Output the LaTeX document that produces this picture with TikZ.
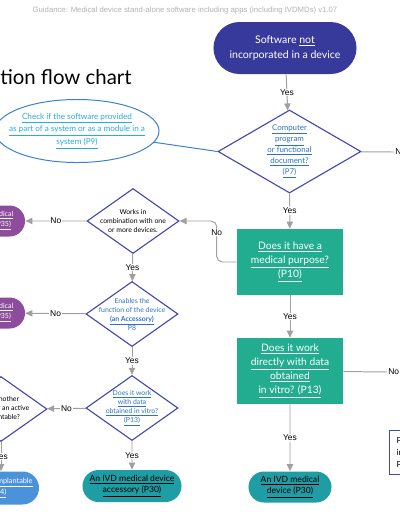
\documentclass[tikz,border=0pt]{standalone}
\usepackage{fontspec}
\setmainfont{Lato}
\newfontfamily\arialfont{Liberation Sans}
\usetikzlibrary{shapes.geometric,shapes.misc,arrows.meta}
\definecolor{navy}{HTML}{373A9A}
\definecolor{edge}{HTML}{4548AD}
\definecolor{link}{HTML}{2E72C2}
\definecolor{sky}{HTML}{2AAAE2}
\definecolor{skyedge}{HTML}{3A80D0}
\definecolor{sea}{HTML}{22AD90}
\definecolor{plum}{HTML}{8E4D9C}
\definecolor{aimdblue}{HTML}{4A93DA}
\definecolor{ivdteal}{HTML}{1F9DA5}
\definecolor{wire}{HTML}{A0A0A0}
\tikzstyle{term} = [rounded rectangle, inner sep=0pt, align=center]
\tikzstyle{dec} = [diamond, draw=edge, line width=0.8pt, inner sep=0pt]
\tikzstyle{ask} = [rectangle, fill=sea, text=white, inner sep=0pt, align=center, minimum width=2.65cm, minimum height=1.65cm, font=\fontsize{7.3}{10}\selectfont]
\tikzstyle{small} = [align=center, font=\fontsize{4.9}{6.4}\selectfont]
\tikzstyle{wire} = [draw=wire, line width=0.7pt]
\tikzstyle{arr} = [wire, -{Triangle[width=4.5pt,length=5pt]}]
\tikzstyle{yn} = [fill=white, inner sep=0.6pt, font=\arialfont\fontsize{6}{7}\selectfont]

\begin{document}
\begin{tikzpicture}[x=0.025cm, y=-0.025cm]
    \useasboundingbox (0,0) rectangle (400,516);
    \clip (0,0) rectangle (400,516);
    \node[text=black!30, font=\arialfont\fontsize{5.5}{6}\selectfont](head) at (185,10){Guidance: Medical device stand-alone software including apps (including IVDMDs) v1.07};
    \node[anchor=west, inner sep=0pt, font=\fontsize{14.5}{16}\selectfont](title) at (0,77){tion flow chart};
    \node[term, fill=navy, text=white, minimum width=3.575cm, minimum height=1.3cm, font=\fontsize{7.5}{10.5}\selectfont](sw) at (285,48){Software \underline{not}\\incorporated in a device};
    \node[dec, minimum width=3.575cm, minimum height=2.075cm](p7) at (289.5,151.5){};
    \node[small, text=link, font=\fontsize{5.6}{7.8}\selectfont] at (p7){\underline{Computer}\\\underline{program}\\\underline{or functional}\\\underline{document?}\\\underline{(P7)}};
    \node[ellipse, draw=skyedge, line width=0.7pt, minimum width=4.1cm, minimum height=1.575cm](p9) at (77,131){};
    \node[small, text=sky, font=\fontsize{5.8}{9}\selectfont] at (p9){\underline{Check if the software provided}\\\underline{as part of a system or as a module in a}\\\underline{system (P9)}};
    \node[ask](p10) at (290,262){\underline{Does it have a}\\\underline{medical purpose?}\\\underline{(P10)}};
    \node[ask](p13) at (290,371){\underline{Does it work}\\\underline{directly with data}\\\underline{obtained}\\\underline{in vitro? (P13)}};
    \node[term, fill=ivdteal, minimum width=2.075cm, minimum height=0.775cm, font=\fontsize{6.1}{7.8}\selectfont](ivd) at (290,487){\underline{An IVD medical}\\\underline{device (P30)}};
    \node[draw=edge, fill=white, line width=0.8pt, anchor=north west, inner xsep=5pt, inner ysep=3pt, text width=1.4cm, minimum height=1.1cm, align=left, font=\fontsize{6}{8.5}\selectfont](refbox) at (389,430){Please see\\information\\P14};
    % left column
    \node[dec, minimum width=2.3cm, minimum height=1.625cm](combi) at (133,221){};
    \node[small] at (combi){Works in\\combination with one\\or more devices.};
    \node[dec, minimum width=2.3cm, minimum height=1.625cm](p8) at (132,314){};
    \node[small, text=link] at (p8){Enables the\\function of the device\\\underline{\textbf{(an Accessory)}}\\P8};
    \node[dec, minimum width=2.3cm, minimum height=1.625cm](p13b) at (132,408){};
    \node[small, text=link] at (p13b){\underline{Does it work}\\\underline{with data}\\\underline{obtained in vitro?}\\\underline{(P13)}};
    \node[dec, minimum width=2.3cm, minimum height=1.625cm](aimd) at (1,409){};
    \node[small] at (aimd){Is it another\\device or an active\\implantable?};
    \node[term, fill=plum, text=white, minimum width=1.65cm, minimum height=0.775cm, font=\fontsize{5}{7}\selectfont](p35a) at (-8,221){\underline{Not a medical}\\\underline{device (P35)}};
    \node[term, fill=plum, text=white, minimum width=1.65cm, minimum height=0.775cm, font=\fontsize{5}{7}\selectfont](p35b) at (-8,313){\underline{Not a medical}\\\underline{device (P35)}};
    \node[term, fill=aimdblue, text=white, minimum width=2.05cm, minimum height=0.825cm, font=\fontsize{5.2}{7.5}\selectfont](p14) at (-2,488){\underline{An active implantable}\\\underline{(P14)}};
    \node[term, fill=ivdteal, minimum width=2.475cm, minimum height=0.8cm, font=\fontsize{6.1}{7.8}\selectfont](p30) at (132,486){\underline{An IVD medical device}\\\underline{accessory (P30)}};
    \coordinate(p7no) at (394,152);
    \coordinate(p13no) at (387,372);
    % connectors
    \draw[arr](sw)--node[yn]{Yes}(p7);
    \draw[wire](p7)--(p7no)node[yn, anchor=west, fill=none]{No};
    \draw[draw=skyedge, line width=0.7pt](p9)--(p7.west);
    \draw[arr](p7)--node[yn]{Yes}(p10);
    \draw[arr, rounded corners=4pt](p10.west)--++(-20,0)|-node[yn, pos=0.36]{No}(combi.east);
    \draw[arr](p10)--node[yn]{Yes}(p13);
    \draw[wire](p13)--(p13no)node[yn, anchor=west, fill=none]{No};
    \draw[arr](p13)--node[yn]{Yes}(ivd);
    \draw[arr](combi)--node[yn]{No}(p35a);
    \draw[arr](combi)--node[yn]{Yes}(p8);
    \draw[arr](p8)--node[yn]{No}(p35b);
    \draw[arr](p8)--node[yn]{Yes}(p13b);
    \draw[arr](p13b)--node[yn]{No}(aimd);
    \draw[arr](p13b)--node[yn]{Yes}(p30);
    \draw[arr](aimd.south)--node[yn]{Yes}(aimd.south|-p14.north);
\end{tikzpicture}
\end{document}
